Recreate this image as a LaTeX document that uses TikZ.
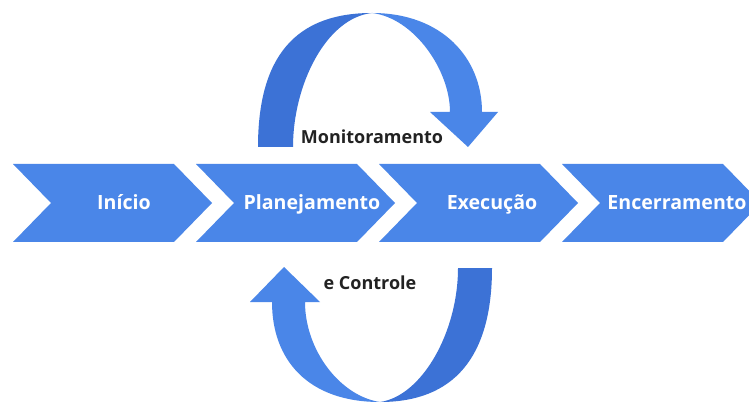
\documentclass[tikz,border=0pt]{standalone}
\usepackage{fontspec}
\setmainfont{Open Sans}
\definecolor{chev}{HTML}{4A86E8}
\definecolor{arrlight}{HTML}{4A86E8}
\definecolor{arrdark}{HTML}{3C72D6}
\definecolor{txtdark}{HTML}{222222}
\tikzset{
  chevtext/.style={text=white, font=\fontsize{19.6}{22}\selectfont\bfseries, inner sep=0pt, anchor=base},
  arclabel/.style={text=txtdark, font=\fontsize{18}{21}\selectfont\bfseries, inner sep=0pt, anchor=base}
}
\begin{document}
\begin{tikzpicture}[x=1pt,y=1pt]
\useasboundingbox (0,0) rectangle (749,-403);
\fill[white] (0,0) rectangle (749,-403);
\clip (0,0) rectangle (749,-403);
% chevrons
\foreach \L/\nm/\txt/\tx in {13/inicio/Início/124, 196/plan/Planejamento/312, 379/exec/Execução/492, 562/enc/Encerramento/677}{
  \fill[chev] (\L,-164) -- ({\L+161},-164) -- ({\L+199},-203) -- ({\L+161},-242) -- (\L,-242) -- ({\L+38},-203) -- cycle;
  \node[chevtext] (\nm) at (\tx,-210) {\txt};
}
% top arrow (left half darker)
\fill[arrdark] (258,-147) .. controls (258,-56) and (296,-13) .. (372,-13)
  .. controls (326,-18) and (293,-85) .. (293,-147) -- cycle;
\fill[arrlight] (372,-13) .. controls (442,-13) and (482,-58) .. (482,-112)
  -- (498,-112) -- (468,-147) -- (430,-112) -- (450,-112)
  .. controls (450,-70) and (414,-18) .. (372,-13) -- cycle;
% bottom arrow (right half darker)
\fill[arrdark] (492,-268) .. controls (492,-357) and (454,-402) .. (380,-402)
  .. controls (422,-396) and (458,-332) .. (458,-268) -- cycle;
\fill[arrlight] (380,-402) .. controls (308,-402) and (272,-360) .. (272,-302)
  -- (250,-302) -- (284,-267) -- (320,-302) -- (305,-302)
  .. controls (305,-350) and (340,-396) .. (380,-402) -- cycle;
\node[arclabel] (mon) at (372,-143.5) {Monitoramento};
\node[arclabel] (ctrl) at (370,-289) {e Controle};
\end{tikzpicture}
\end{document}
